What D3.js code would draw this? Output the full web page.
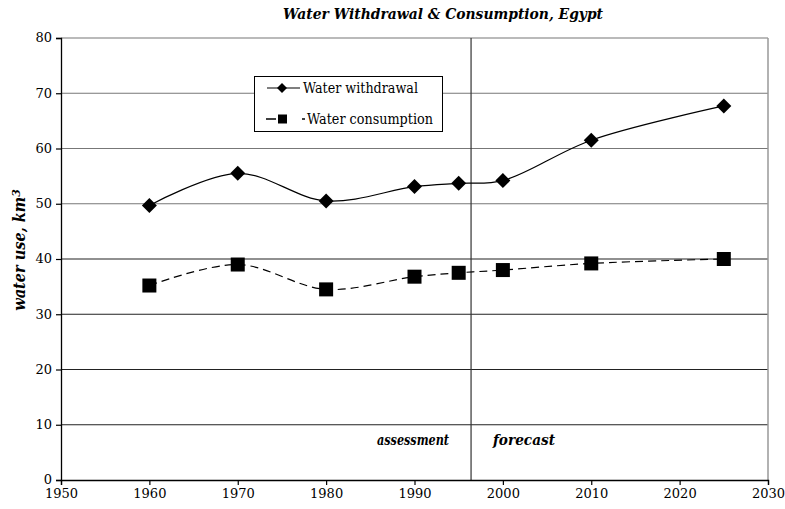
<!DOCTYPE html>
<html>
<head>
<meta charset="utf-8">
<script src="https://cdn.jsdelivr.net/npm/d3@7"></script>
<style>
  body { margin: 0; background: #fff; }
  svg text { font-family: "DejaVu Serif", "Liberation Serif", serif; fill: #000; }
</style>
</head>
<body>
<svg id="chart" width="785" height="509"></svg>
<script>
const years = [1960, 1970, 1980, 1990, 1995, 2000, 2010, 2025]
const withdrawal = [49.7, 55.5, 50.5, 53.1, 53.7, 54.2, 61.5, 67.7]
const consumption = [35.2, 39.0, 34.5, 36.8, 37.5, 38.0, 39.2, 40.0]
const yTicks = [0, 10, 20, 30, 40, 50, 60, 70, 80]
const xTicks = [1950, 1960, 1970, 1980, 1990, 2000, 2010, 2020, 2030]
const splitYear = 1996.4

const svg = d3.select('#chart')
const x = d3.scaleLinear().domain([1950, 2030]).range([61, 768])
const y = d3.scaleLinear().domain([0, 80]).range([480, 38])

// grid
svg.append('g').selectAll('line').data(yTicks.filter(d => d > 0))
  .enter().append('line')
  .attr('x1', x(1950)).attr('x2', x(2030))
  .attr('y1', d => y(d)).attr('y2', d => y(d))
  .attr('stroke', d => d >= 50 ? '#777' : '#222').attr('stroke-width', 1.2)

svg.append('line')
  .attr('x1', x(2030)).attr('x2', x(2030)).attr('y1', y(80)).attr('y2', y(0))
  .attr('stroke', '#999').attr('stroke-width', 1.5)

svg.append('line')
  .attr('x1', x(splitYear)).attr('x2', x(splitYear)).attr('y1', y(80)).attr('y2', y(0))
  .attr('stroke', '#333').attr('stroke-width', 1.2)

// axes
const yAxis = svg.append('g').attr('transform', `translate(${x(1950)},0)`)
  .call(d3.axisLeft(y).tickValues(yTicks).tickSize(5).tickPadding(4))
const xAxis = svg.append('g').attr('transform', `translate(0,${y(0)})`)
  .call(d3.axisBottom(x).tickValues(xTicks).tickFormat(d3.format('d')).tickSize(5).tickPadding(4))
;[yAxis, xAxis].forEach(a => {
  a.attr('font-family', null)
  a.select('.domain').attr('stroke', '#000').attr('stroke-width', 1.3)
  a.selectAll('.tick line').attr('stroke', '#000').attr('stroke-width', 1.2)
  a.selectAll('text').attr('font-size', 13).attr('fill', '#000')
})
yAxis.selectAll('text').attr('dy', '0.3em')

// lines
const line = vals => d3.line()
  .x((d, i) => x(years[i]))
  .y(d => y(d))
  .curve(d3.curveCatmullRom.alpha(0.5))(vals)

svg.append('path').attr('d', line(withdrawal))
  .attr('fill', 'none').attr('stroke', '#000').attr('stroke-width', 1.2)
svg.append('path').attr('d', line(consumption))
  .attr('fill', 'none').attr('stroke', '#000').attr('stroke-width', 1.2)
  .attr('stroke-dasharray', '8,5')

const diamond = (cx, cy, r) => `M${cx},${cy - r}L${cx + r},${cy}L${cx},${cy + r}L${cx - r},${cy}Z`

svg.append('g').selectAll('path').data(withdrawal).enter().append('path')
  .attr('d', (d, i) => diamond(x(years[i]), y(d), 7.5))
  .attr('fill', '#000')

svg.append('g').selectAll('rect').data(consumption).enter().append('rect')
  .attr('x', (d, i) => x(years[i]) - 7).attr('y', d => y(d) - 7)
  .attr('width', 14).attr('height', 14)
  .attr('fill', '#000')

// legend
const lg = svg.append('g')
lg.append('rect').attr('x', 254.5).attr('y', 76.5).attr('width', 188).attr('height', 55)
  .attr('fill', '#fff').attr('stroke', '#000').attr('stroke-width', 1)
lg.append('line').attr('x1', 267).attr('x2', 300).attr('y1', 88).attr('y2', 88)
  .attr('stroke', '#000').attr('stroke-width', 1.2)
lg.append('path').attr('d', diamond(282, 88, 5)).attr('fill', '#000')
lg.append('text').attr('x', 303).attr('y', 93).attr('font-size', 14)
  .attr('textLength', 115).attr('lengthAdjust', 'spacingAndGlyphs').text('Water withdrawal')
lg.append('line').attr('x1', 266).attr('x2', 305).attr('y1', 119).attr('y2', 119)
  .attr('stroke', '#000').attr('stroke-width', 1.3).attr('stroke-dasharray', '10,26,3,10')
lg.append('rect').attr('x', 278).attr('y', 114.5).attr('width', 9).attr('height', 9).attr('fill', '#000')
lg.append('text').attr('x', 307).attr('y', 124).attr('font-size', 14)
  .attr('textLength', 126).attr('lengthAdjust', 'spacingAndGlyphs').text('Water consumption')

// titles
svg.append('text').attr('x', 443).attr('y', 19).attr('text-anchor', 'middle')
  .attr('font-size', 15).attr('font-weight', 'bold').attr('font-style', 'italic')
  .attr('textLength', 320).attr('lengthAdjust', 'spacingAndGlyphs')
  .text('Water Withdrawal & Consumption, Egypt')

const yl = svg.append('text').attr('transform', 'translate(25,250) rotate(-90)')
  .attr('text-anchor', 'middle').attr('font-size', 16).attr('font-weight', 'bold').attr('font-style', 'italic')
yl.append('tspan').attr('textLength', 114).attr('lengthAdjust', 'spacingAndGlyphs').text('water use, km')
yl.append('tspan').attr('dy', '-0.45em').attr('font-size', 11).text('3')

svg.append('text').attr('x', 449).attr('y', 445).attr('text-anchor', 'end')
  .attr('font-size', 14).attr('font-weight', 'bold').attr('font-style', 'italic')
  .attr('textLength', 72).attr('lengthAdjust', 'spacingAndGlyphs').text('assessment')
svg.append('text').attr('x', 493).attr('y', 445)
  .attr('font-size', 14).attr('font-weight', 'bold').attr('font-style', 'italic')
  .attr('textLength', 62).attr('lengthAdjust', 'spacingAndGlyphs').text('forecast')
</script>
</body>
</html>
